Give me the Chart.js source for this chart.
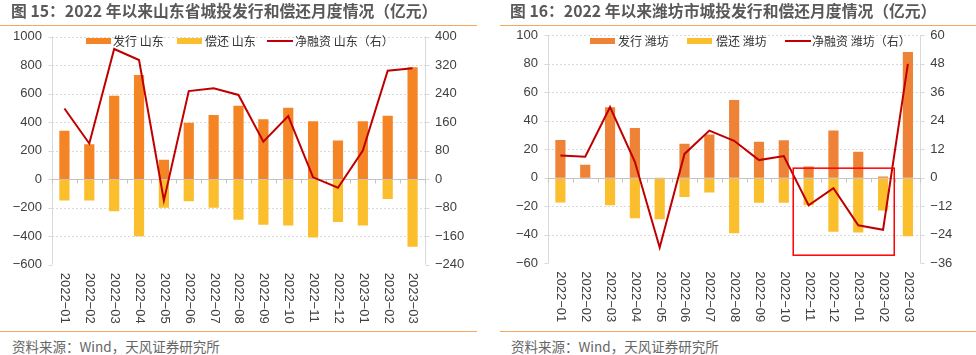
<!DOCTYPE html>
<html><head><meta charset="utf-8">
<script src="https://cdn.jsdelivr.net/npm/chart.js@4"></script>
<style>
body{margin:0;background:#fff;width:976px;height:355px;overflow:hidden;position:relative;font-family:"Noto Sans CJK SC","Liberation Sans",sans-serif;}
.title{position:absolute;top:0px;font-size:15.8px;font-weight:bold;color:#595959;white-space:nowrap;line-height:21px;z-index:2;}
.rule{position:absolute;height:1px;background:#F5A862;z-index:2;}
.src{position:absolute;top:337px;font-size:13.5px;color:#666;white-space:nowrap;line-height:18px;z-index:2;}
canvas{position:absolute;top:0;}
.lg{position:absolute;font-size:12px;color:#333;white-space:nowrap;line-height:14px;z-index:2;}
.sw{position:absolute;z-index:2;}
</style></head>
<body>
<div class="title" style="left:11px">图 15：2022 年以来山东省城投发行和偿还月度情况（亿元）</div>
<div class="rule" style="left:0;width:477px;top:25px"></div>
<div class="title" style="left:510px">图 16：2022 年以来潍坊市城投发行和偿还月度情况（亿元）</div>
<div class="rule" style="left:500px;width:476px;top:25px"></div>

<canvas id="c1" width="488" height="330" style="left:0"></canvas>
<canvas id="c2" width="488" height="330" style="left:488px"></canvas>

<div class="sw" style="left:86px;top:38px;width:25px;height:6px;background:#F48424"></div>
<div class="lg" style="left:113px;top:33.5px">发行 山东</div>
<div class="sw" style="left:177px;top:38px;width:25px;height:6px;background:#FBBE2C"></div>
<div class="lg" style="left:205px;top:33.5px">偿还 山东</div>
<div class="sw" style="left:267px;top:40px;width:26px;height:2px;background:#C00000"></div>
<div class="lg" style="left:295px;top:33.5px">净融资 山东（右）</div>

<div class="sw" style="left:590px;top:38px;width:25px;height:6px;background:#EE8236"></div>
<div class="lg" style="left:618px;top:33.5px">发行 潍坊</div>
<div class="sw" style="left:687px;top:38px;width:25px;height:6px;background:#FBBE2C"></div>
<div class="lg" style="left:716px;top:33.5px">偿还 潍坊</div>
<div class="sw" style="left:785px;top:40px;width:26px;height:2px;background:#C00000"></div>
<div class="lg" style="left:812px;top:33.5px">净融资 潍坊（右）</div>

<div class="rule" style="left:0;width:477px;top:331px"></div>
<div class="src" style="left:12px">资料来源：Wind，天风证券研究所</div>
<div class="rule" style="left:500px;width:476px;top:331px"></div>
<div class="src" style="left:511px">资料来源：Wind，天风证券研究所</div>

<script>
const months = ['2022-01','2022-02','2022-03','2022-04','2022-05','2022-06','2022-07','2022-08','2022-09','2022-10','2022-11','2022-12','2023-01','2023-02','2023-03'];

// 山东
const sdIssue = [340,245,585,730,135,395,450,515,420,500,405,270,405,445,785];
const sdRepay = [-150,-150,-225,-400,-200,-155,-200,-285,-320,-325,-410,-300,-325,-140,-475];
const sdNet   = [198,100,365,334,-60,247,255,236,105,177,5,-24,80,304,311];
const sdLeftAxis  = [-600, 1000, 200];
const sdRightAxis = [-240, 400, 80];

// 潍坊
const wfIssue = [26.5,9,49.3,34.9,0,23.7,30.2,54.4,25.1,26.3,7.9,33,18.1,0.9,88.1];
const wfRepay = [-17.4,0,-19.3,-28.5,-29.2,-13.6,-10.4,-39,-17.6,-17.6,-19.3,-37.9,-38.4,-23,-41];
const wfNet   = [9.3,8.8,29.7,6.7,-29.4,10,19.8,15.5,7.4,9.1,-11.6,-4.4,-20,-21.9,47.9];
const wfLeftAxis  = [-60, 100, 20];
const wfRightAxis = [-36, 60, 12];

// highlight box on 潍坊 chart: [from category index, to category index, top (right axis), bottom (right axis)]
const wfHighlight = [9.38, 13.45, 4, -32.6];

const minus = v => String(v).replace('-', '\u2212');

const axisDeco = {
  id: 'axisDeco',
  beforeDatasetsDraw(chart) {
    const {ctx, chartArea: a, scales: {y, y1}} = chart;
    ctx.save();
    ctx.lineWidth = 1;
    ctx.strokeStyle = '#d9d9d9';
    ctx.setLineDash([2, 2]);
    y.ticks.forEach(t => {
      if (t.value === 0 || t.value === y.min) return;
      const py = Math.round(y.getPixelForValue(t.value)) + 0.5;
      ctx.beginPath(); ctx.moveTo(a.left, py); ctx.lineTo(a.right, py); ctx.stroke();
    });
    ctx.setLineDash([]);
    const lx = Math.round(a.left) + 0.5, rx = Math.round(a.right) + 0.5;
    ctx.beginPath();
    ctx.moveTo(lx, a.top); ctx.lineTo(lx, a.bottom);
    ctx.moveTo(rx, a.top); ctx.lineTo(rx, a.bottom);
    y.ticks.forEach(t => { const py = Math.round(y.getPixelForValue(t.value)) + 0.5; ctx.moveTo(lx - 4, py); ctx.lineTo(lx, py); });
    y1.ticks.forEach(t => { const py = Math.round(y1.getPixelForValue(t.value)) + 0.5; ctx.moveTo(rx, py); ctx.lineTo(rx + 4, py); });
    ctx.stroke();
    ctx.restore();
  },
  beforeDatasetDraw(chart, args) {
    if (args.meta.type !== 'line') return;
    const {ctx, chartArea: a, scales: {x, y}} = chart;
    const zy = Math.round(y.getPixelForValue(0)) + 0.5;
    const half = (x.getPixelForValue(1) - x.getPixelForValue(0)) / 2;
    ctx.save();
    ctx.strokeStyle = '#c4c4c4';
    ctx.lineWidth = 1;
    ctx.beginPath();
    ctx.moveTo(a.left, zy); ctx.lineTo(a.right, zy);
    for (let i = 0; i <= x.ticks.length; i++) {
      const px = Math.round(x.getPixelForValue(i) - half) + 0.5;
      ctx.moveTo(px, zy); ctx.lineTo(px, zy + 4);
    }
    ctx.stroke();
    ctx.restore();
  },
  afterDraw(chart, args, opts) {
    const {ctx, chartArea: a, scales: {x, y1}} = chart;
    ctx.save();
    ctx.font = '13px "Liberation Sans", Arial, sans-serif';
    ctx.fillStyle = '#404040';
    ctx.textAlign = 'left';
    ctx.textBaseline = 'middle';
    chart.data.labels.forEach((lab, i) => {
      const px = x.getPixelForValue(i) + 0.5;
      ctx.save();
      ctx.translate(px, a.bottom + 8);
      ctx.rotate(Math.PI / 2);
      ctx.fillText(minus(lab), 0, 0);
      ctx.restore();
    });
    if (opts.box) {
      const [f, t, top, bot] = opts.box;
      const x0 = x.getPixelForValue(f), x1 = x.getPixelForValue(t);
      const y0 = y1.getPixelForValue(top), yb = y1.getPixelForValue(bot);
      ctx.strokeStyle = '#FF0000';
      ctx.lineWidth = 1.5;
      ctx.strokeRect(x0, y0, x1 - x0, yb - y0);
    }
    ctx.restore();
  }
};

function makeChart(id, issue, repay, net, issueColor, leftAx, rightAx, dims, box) {
  const tickFont = {family: '"Liberation Sans", Arial, sans-serif', size: 13};
  return new Chart(document.getElementById(id), {
    type: 'bar',
    data: {
      labels: months,
      datasets: [
        {type: 'line', data: net, yAxisID: 'y1', borderColor: '#C00000', borderWidth: 2, pointRadius: 0, tension: 0, fill: false, order: 0},
        {data: issue, yAxisID: 'y', backgroundColor: issueColor, barPercentage: 0.41, categoryPercentage: 1, order: 1},
        {data: repay, yAxisID: 'y', backgroundColor: '#FBBE2C', barPercentage: 0.41, categoryPercentage: 1, order: 1}
      ]
    },
    options: {
      responsive: false, animation: false, devicePixelRatio: 1,
      layout: {padding: {top: dims.top, left: 0, right: 0, bottom: 0}},
      plugins: {legend: {display: false}, tooltip: {enabled: false}, axisDeco: {box: box}},
      scales: {
        x: {stacked: true, offset: true, grid: {display: false, drawTicks: false}, border: {display: false}, ticks: {display: false},
            afterFit: s => { s.height = dims.xh; }},
        y: {stacked: true, position: 'left', min: leftAx[0], max: leftAx[1],
            ticks: {stepSize: leftAx[2], padding: 10, font: tickFont, color: '#404040', callback: minus},
            grid: {display: false, drawTicks: false}, border: {display: false},
            afterFit: s => { s.width = dims.lw; }},
        y1: {position: 'right', min: rightAx[0], max: rightAx[1],
            ticks: {stepSize: rightAx[2], padding: 10, font: tickFont, color: '#404040', callback: minus},
            grid: {display: false, drawTicks: false}, border: {display: false},
            afterFit: s => { s.width = dims.rw; }}
      }
    },
    plugins: [axisDeco]
  });
}

makeChart('c1', sdIssue, sdRepay, sdNet, '#F48424', sdLeftAxis, sdRightAxis, {top: 36.5, xh: 65.3, lw: 52, rw: 63}, null);
makeChart('c2', wfIssue, wfRepay, wfNet, '#EE8236', wfLeftAxis, wfRightAxis, {top: 35, xh: 66.7, lw: 60, rw: 55.7}, wfHighlight);
</script>
</body></html>
